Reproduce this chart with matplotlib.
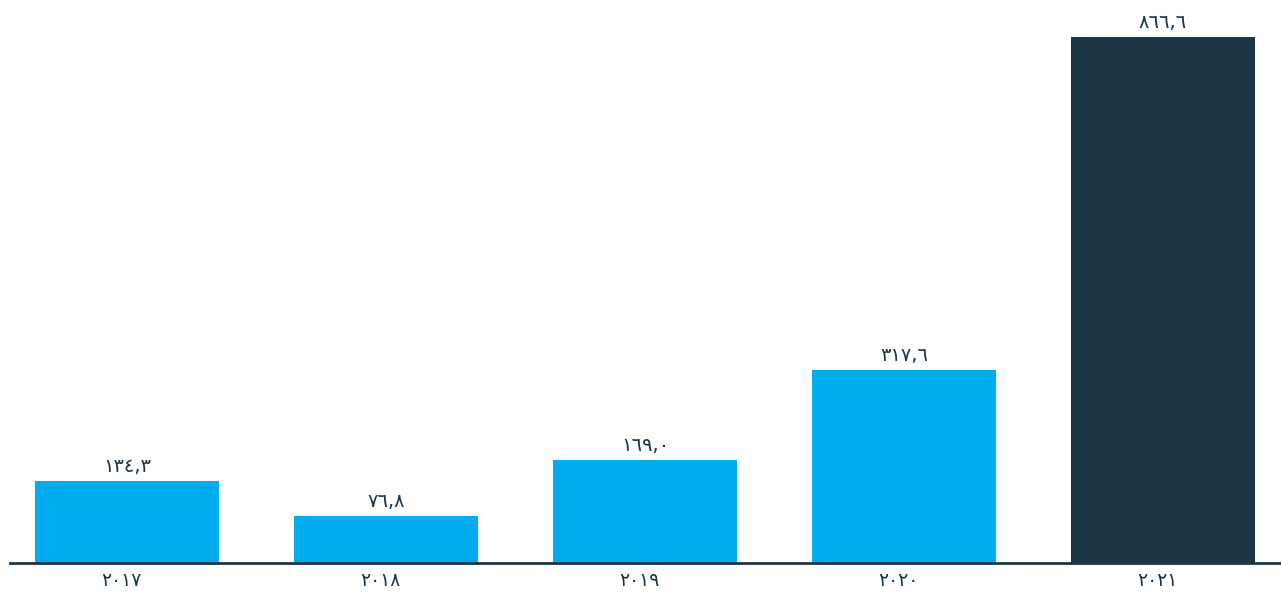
import matplotlib.pyplot as plt
from matplotlib.transforms import ScaledTranslation

# data
years = ["٢٠١٧", "٢٠١٨", "٢٠١٩", "٢٠٢٠", "٢٠٢١"]
values = [134.3, 76.8, 169.0, 317.6, 866.6]
value_labels = ["١٣٤,٣", "٧٦,٨", "١٦٩,٠", "٣١٧,٦", "٨٦٦,٦"]

light_blue = "#00ADEF"
dark_blue = "#1B3446"
colors = [light_blue, light_blue, light_blue, light_blue, dark_blue]

plt.rcParams['font.family'] = ['DejaVu Sans']

fig = plt.figure(figsize=(12.81, 5.93), dpi=100)
ax = fig.add_axes([10 / 1281, 30 / 593, 1270 / 1281, 563 / 593])

x = range(len(years))
bars = ax.bar(x, values, width=0.71, color=colors)

for b, lab in zip(bars, value_labels):
    ax.text(b.get_x() + b.get_width() / 2, b.get_height() + 9, lab,
            ha='center', va='bottom', fontsize=14, color=dark_blue)

ax.set_xlim(-0.452, 4.452)
ax.set_ylim(0, 866.6 * 563 / 526)
ax.set_xticks(list(x))
ax.set_xticklabels(years, fontsize=13.5, color=dark_blue)
ax.tick_params(axis='x', length=0, pad=6)
ax.set_yticks([])

# year labels sit a little left of the bar centres in the original
shift = ScaledTranslation(-6 / 100, 0, fig.dpi_scale_trans)
for t in ax.get_xticklabels():
    t.set_transform(t.get_transform() + shift)

for s in ['top', 'right', 'left']:
    ax.spines[s].set_visible(False)
ax.spines['bottom'].set_color(dark_blue)
ax.spines['bottom'].set_linewidth(2)

fig.savefig("out.png", dpi=100)
